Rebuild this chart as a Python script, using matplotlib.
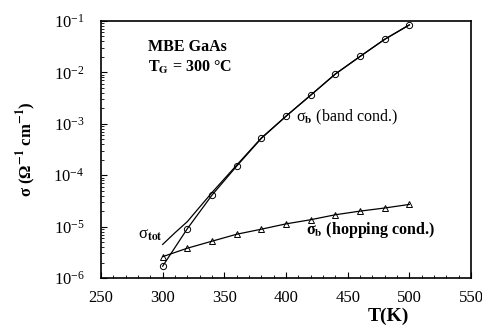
import matplotlib
matplotlib.use("Agg")
import matplotlib.pyplot as plt
from matplotlib.ticker import LogLocator, NullFormatter, MultipleLocator

# temperatures (K)
T = [300, 320, 340, 360, 380, 400, 420, 440, 460, 480, 500]

# band conduction (circles)
sig_band = [1.7e-6, 9.1e-6, 4.1e-5, 1.5e-4, 5.2e-4, 1.4e-3, 3.6e-3,
            9.3e-3, 2.04e-2, 4.4e-2, 8.4e-2]
# hopping conduction (triangles)
sig_hop = [2.6e-6, 3.8e-6, 5.2e-6, 7.1e-6, 8.9e-6, 1.13e-5, 1.36e-5,
           1.7e-5, 2.0e-5, 2.3e-5, 2.7e-5]
# total conductivity (smooth line, no markers)
T_tot = [300, 310, 320, 330, 340, 360, 380, 400, 420, 440, 460, 480, 500]
sig_tot = [4.5e-6, 7.6e-6, 1.25e-5, 2.4e-5, 4.6e-5, 1.57e-4, 5.3e-4,
           1.41e-3, 3.6e-3, 9.3e-3, 2.04e-2, 4.4e-2, 8.4e-2]

plt.rcParams['font.family'] = ['Liberation Serif', 'DejaVu Serif']
plt.rcParams['mathtext.fontset'] = 'stix'

fig = plt.figure(figsize=(4.82, 3.25), dpi=100)
ax = fig.add_axes([101/482, 1 - 278/325, 370/482, 257/325])

ax.plot(T, sig_band, color='black', lw=0.9, marker='o', ms=4.5,
        mfc='none', mec='black', mew=0.7)
ax.plot(T, sig_hop, color='black', lw=0.9, marker='^', ms=4,
        mfc='none', mec='black', mew=0.7)
ax.plot(T_tot, sig_tot, color='black', lw=0.9)

ax.set_yscale('log')
ax.set_xlim(250, 550)
ax.set_ylim(1e-6, 1e-1)
ax.xaxis.set_major_locator(MultipleLocator(50))
ax.xaxis.set_minor_locator(MultipleLocator(10))
ax.yaxis.set_major_locator(LogLocator(base=10, numticks=10))
ax.yaxis.set_minor_locator(LogLocator(base=10, subs=range(2, 10), numticks=10))
ax.yaxis.set_minor_formatter(NullFormatter())
ax.tick_params(which='both', direction='in', top=False, right=False,
               labelsize=12)
ax.tick_params(axis='y', pad=12)
ax.tick_params(axis='x', pad=9)
ax.tick_params(which='major', length=4, width=0.8)
ax.tick_params(which='minor', length=2, width=0.6)
for s in ax.spines.values():
    s.set_linewidth(1.2)

ax.set_ylabel(r'σ (Ω$^{\mathbf{-1}}$ cm$^{\mathbf{-1}}$)', fontsize=12,
              fontweight='bold')
ax.yaxis.set_label_coords(-0.17, 0.5)
ax.set_xlabel('T(K)', fontsize=14, fontweight='bold')
ax.xaxis.set_label_coords(0.776, -0.115)

ax.text(288, 3.1e-2, 'MBE GaAs', fontsize=11.5, fontweight='bold',
        va='center')
ax.text(288, 1.27e-2, r'T$_{\mathbf{G}}$ = 300 °C', fontsize=11.5,
        fontweight='bold', va='center')
ax.text(408, 1.35e-3, r'σ$_{\mathbf{b}}$ (band cond.)', fontsize=11.5,
        va='center')
ax.text(416, 8.5e-6, r'σ$_{\mathbf{b}}$ (hopping cond.)', fontsize=11.5,
        va='center', fontweight='bold')
ax.text(280, 6.9e-6, r'σ$_{\mathbf{tot}}$', fontsize=12, va='center')

fig.savefig('out.png', dpi=100)
